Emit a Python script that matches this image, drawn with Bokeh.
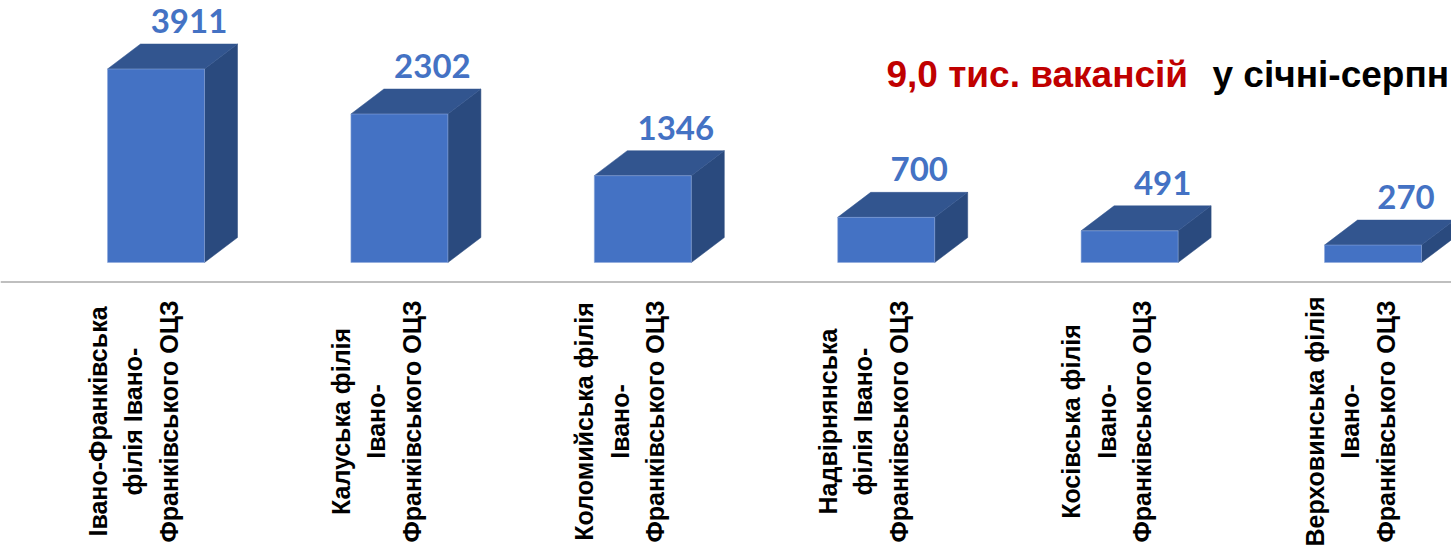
import numpy as np
from bokeh.plotting import figure
from bokeh.models import ColumnDataSource, Range1d, Span, Label
from bokeh.core.properties import value
from bokeh.embed import file_html
from bokeh.resources import INLINE

# ---- data ----
categories = [
    "Івано-Франківська\nфілія Івано-\nФранківського ОЦЗ",
    "Калуська філія\nІвано-\nФранківського ОЦЗ",
    "Коломийська філія\nІвано-\nФранківського ОЦЗ",
    "Надвірнянська\nфілія Івано-\nФранківського ОЦЗ",
    "Косівська філія\nІвано-\nФранківського ОЦЗ",
    "Верховинська філія\nІвано-\nФранківського ОЦЗ",
]
vacancies = [3911, 2302, 1346, 700, 491, 270]
title_red = "9,0 тис. вакансій"
title_black = "у січні-серпн"
axis_max = 3000  # value axis maximum (tallest bar is cut at it)

# ---- layout (pixels) ----
W, H = 1451, 551
PITCH = 243.4      # px between categories
X0 = 155.5         # px of first category centre
BAR_W = 97         # px front face width
DX, DY = 33, 25    # px depth of 3D effect
BASE = 289         # px of value 0 from bottom
PPU = 0.0645       # px per unit

x_start = -X0 / PITCH
y_start = -BASE / PPU
w = BAR_W / PITCH
dx = DX / PITCH
dy = DY / PPU

FRONT = "#4472C4"
TOP = "#32558F"
SIDE = "#2A4A7E"

p = figure(width=W, height=H, output_backend="svg", toolbar_location=None,
           x_range=Range1d(x_start, x_start + W / PITCH),
           y_range=Range1d(y_start, y_start + H / PPU),
           min_border=0, outline_line_color=None,
           background_fill_color="white", border_fill_color="white")
p.xaxis.visible = False
p.yaxis.visible = False
p.xgrid.visible = False
p.ygrid.visible = False

idx = np.arange(len(vacancies), dtype=float)
shown = np.minimum(np.array(vacancies, dtype=float), axis_max)

side_xs, side_ys, top_xs, top_ys = [], [], [], []
for x, s in zip(idx, shown):
    r = x + w / 2
    l = x - w / 2
    side_xs.append([r, r + dx, r + dx, r])
    side_ys.append([0, dy, s + dy, s])
    top_xs.append([l, r, r + dx, l + dx])
    top_ys.append([s, s, s + dy, s + dy])

p.patches(side_xs, side_ys, fill_color=SIDE, line_color=SIDE, line_width=0.5)
p.patches(top_xs, top_ys, fill_color=TOP, line_color=TOP, line_width=0.5)
p.vbar(x=idx, top=shown, bottom=0, width=w, fill_color=FRONT,
       line_color="#8EA9DB", line_width=0.8, line_alpha=0.7)

# value labels
p.text(x=idx + dx, y=shown + dy, text=[str(v) for v in vacancies],
       y_offset=-23, text_align="center", text_baseline="alphabetic",
       text_font=value("Lato"), text_font_style="bold",
       text_font_size="33px", text_color=FRONT)

# axis line
p.add_layout(Span(location=-19.5 / PPU, dimension="width",
                  line_color="#BFBFBF", line_width=2))

# category labels (rotated, multi-line)
lx, lxo, lt = [], [], []
for x, cat in zip(idx, categories):
    lines = cat.split("\n")
    n = len(lines)
    for j, t in enumerate(lines):
        lx.append(x)
        lxo.append(-23 + (j - (n - 1) / 2) * 35.5)
        lt.append(t)
lsrc = ColumnDataSource(dict(x=lx, y=[0] * len(lx), xo=lxo, t=lt))
p.text(x="x", y="y", text="t", x_offset="xo", y_offset=159, source=lsrc,
       angle=np.pi / 2, text_align="center", text_baseline="middle",
       text_font=value("Liberation Sans"), text_font_style="bold",
       text_font_size="25px", text_color="black")

# headline
p.add_layout(Label(x=886, y=477, x_units="screen", y_units="screen",
                   text=title_red, text_font="Liberation Sans",
                   text_font_style="bold", text_font_size="37px",
                   text_color="#C00000", text_baseline="alphabetic"))
p.add_layout(Label(x=1212, y=477, x_units="screen", y_units="screen",
                   text=title_black, text_font="Liberation Sans",
                   text_font_style="bold", text_font_size="37px",
                   text_color="black", text_baseline="alphabetic"))

open("out.html", "w").write(file_html(p, INLINE))
